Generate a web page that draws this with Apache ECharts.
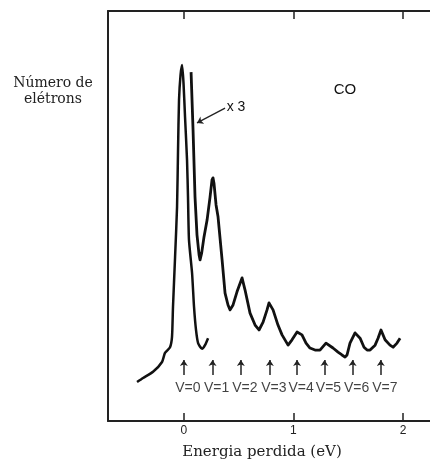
<!DOCTYPE html>
<html>
<head>
<meta charset="utf-8">
<script src="https://cdn.jsdelivr.net/npm/echarts@6/dist/echarts.min.js"></script>
<style>html,body{margin:0;padding:0;background:#fff}#c{width:430px;height:464px}</style>
</head>
<body>
<div id="c"></div>
<script>
// Energy loss (eV) and electron counts (arbitrary units, 0-100)
const mainX = [-0.427,-0.372,-0.281,-0.199,-0.172,-0.126,-0.108,-0.099,-0.080,-0.062,-0.053,-0.044,-0.030,-0.016,-0.003,0.011,0.029,0.038,0.047,0.075,0.093,0.111,0.130,0.166,0.193,0.221];
const mainY = [9.5,10.5,12.0,14.4,16.6,18.0,20.5,27.8,40.0,52.2,66.1,78.3,84.4,86.8,82.4,74.1,63.7,54.6,44.1,36.1,27.8,22.2,19.0,17.6,18.5,20.2];

const x3X = [0.066,0.084,0.102,0.120,0.139,0.148,0.163,0.184,0.212,0.239,0.257,0.266,0.275,0.294,0.312,0.349,0.376,0.403,0.422,0.449,0.485,0.531,0.558,0.604,0.650,0.686,0.723,0.759,0.777,0.814,0.859,0.896,0.951,0.987,1.033,1.078,1.115,1.151,1.197,1.242,1.297,1.361,1.407,1.443,1.471,1.489,1.516,1.562,1.608,1.644,1.672,1.699,1.745,1.772,1.799,1.836,1.881,1.909,1.945,1.973];
const x3Y = [85.1,71.0,54.6,45.4,40.5,39.3,41.0,44.9,49.0,54.6,58.8,59.3,58.0,52.7,49.8,39.3,31.2,28.3,27.1,28.3,31.5,34.9,32.0,26.3,23.4,22.2,24.1,27.1,28.8,27.1,23.4,21.0,18.5,19.8,21.7,21.0,19.0,17.8,17.3,17.3,19.0,17.8,16.8,16.1,15.6,16.1,19.0,21.5,20.2,18.0,17.3,17.3,18.5,20.2,22.2,19.8,18.5,18.0,19.0,20.2];

// vibrational levels marked by arrows
const vX = [0, 0.262, 0.52, 0.785, 1.033, 1.283, 1.54, 1.797];
const vLabels = ['V=0','V=1','V=2','V=3','V=4','V=5','V=6','V=7'];
const tickValues = [0, 1, 2];
const arrowBottom = 11.2, arrowTop = 14.9, labelY = 8.0;
const x3Arrow = [[0.376, 76.3], [0.120, 72.7]];

const chart = echarts.init(document.getElementById('c'), null, {renderer: 'canvas'});
const axisColor = '#222';
const xBase = {
  type: 'value', min: -0.692, max: 2.246,
  splitLine: {show: false},
  axisLine: {show: true, onZero: false, lineStyle: {color: axisColor, width: 2}},
  axisTick: {show: true, inside: true, length: 8, customValues: tickValues, lineStyle: {color: axisColor, width: 1.5}}
};
chart.setOption({
  animation: false,
  backgroundColor: '#ffffff',
  grid: {left: 108, right: 0, top: 11, bottom: 43},
  xAxis: [
    Object.assign({}, xBase, {position: 'bottom',
      axisLabel: {show: true, customValues: tickValues, margin: 4, color: '#222', fontFamily: 'Liberation Sans', fontSize: 12,
        formatter: v => String(v)}}),
    Object.assign({}, xBase, {position: 'top', axisLabel: {show: false}})
  ],
  yAxis: {
    type: 'value', min: 0, max: 100,
    splitLine: {show: false},
    axisLine: {show: true, onZero: false, lineStyle: {color: axisColor, width: 2}},
    axisTick: {show: false}, axisLabel: {show: false}
  },
  series: [
    {type: 'line', data: mainX.map((x, i) => [x, mainY[i]]), smooth: 0.2, showSymbol: false,
      lineStyle: {color: '#111', width: 2.5}},
    {type: 'line', data: x3X.map((x, i) => [x, x3Y[i]]), smooth: false, showSymbol: false,
      lineStyle: {color: '#111', width: 2.8, join: 'round'}},
    {type: 'lines', coordinateSystem: 'cartesian2d', symbol: ['none', 'arrow'], symbolSize: [0, 6],
      lineStyle: {color: '#222', width: 1.5, opacity: 1},
      data: vX.map(x => ({coords: [[x, arrowBottom], [x, arrowTop]]}))},
    {type: 'lines', coordinateSystem: 'cartesian2d', symbol: ['none', 'arrow'], symbolSize: [0, 6],
      lineStyle: {color: '#222', width: 1.3, opacity: 1},
      data: [{coords: x3Arrow}]},
    {type: 'scatter', symbolSize: 0, data: vX.map((x, i) => [x, labelY, vLabels[i]]),
      label: {show: true, position: 'inside', offset: [4, 0], formatter: p => p.data[2],
        color: '#111', fontFamily: 'Liberation Sans', fontSize: 14}}
  ],
  graphic: [
    {type: 'text', x: 53, y: 91, style: {text: 'Número de\nelétrons', align: 'center', verticalAlign: 'middle',
      font: '14px "DejaVu Serif"', lineHeight: 16, fill: '#222'}},
    {type: 'text', x: 262, y: 452, style: {text: 'Energia perdida (eV)', align: 'center', verticalAlign: 'middle',
      font: '15px "DejaVu Serif"', fill: '#222'}},
    {type: 'text', x: 345, y: 90, style: {text: 'CO', align: 'center', verticalAlign: 'middle',
      font: '15px "Liberation Sans"', fill: '#111'}},
    {type: 'text', x: 236, y: 107, style: {text: 'x 3', align: 'center', verticalAlign: 'middle',
      font: '14px "Liberation Sans"', fill: '#111'}}
  ]
});
</script>
</body>
</html>
